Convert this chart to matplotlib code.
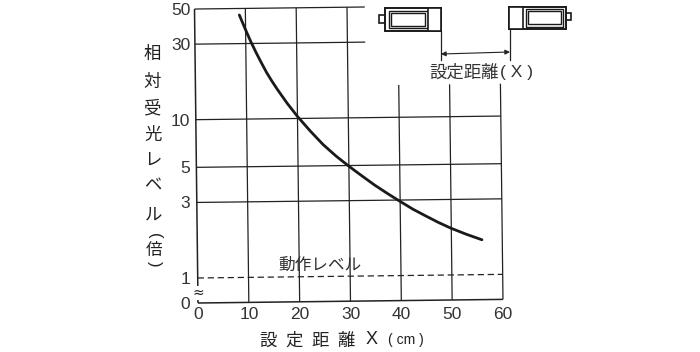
import matplotlib
matplotlib.use("Agg")
import matplotlib.pyplot as plt
from matplotlib.patches import Rectangle
from matplotlib.transforms import Affine2D

plt.rcParams['font.family'] = ['Noto Sans CJK JP', 'DejaVu Sans']
INK = '#222222'
TXT = '#333333'
LAT = 'Liberation Sans'

x_vals = [8.8, 10, 11, 12, 13, 14, 15, 16, 18, 20, 22.5, 25, 27.5, 30,
          32.5, 35, 37.5, 40, 42.5, 45, 47.5, 50, 53, 56]
y_vals = [45.5, 36.6, 30.8, 26.3, 22.7, 19.7, 17.4, 15.5, 12.5, 10.3, 8.3, 6.8, 5.75, 4.95,
          4.3, 3.75, 3.31, 2.94, 2.62, 2.37, 2.15, 1.97, 1.80, 1.66]
x_ticks = [0, 10, 20, 30, 40, 50, 60]
y_ticks = [1, 3, 5, 10, 30, 50]
y_floor = 0.695  # position of the broken-axis "0"
level = 1

fig = plt.figure(figsize=(7, 3.52), dpi=100)
ax = fig.add_axes([198/700, 1-303/352, 305/700, 294/352])
ax.set_yscale('log')
ax.set_xlim(0, 60)
ax.set_ylim(y_floor, 50)
ax.minorticks_off()
for s in ax.spines.values():
    s.set_visible(False)

# the scanned chart is slightly rotated about its origin
tilt = Affine2D().rotate_deg_around(198, 352-303, 0.68)
tr = ax.transData + tilt

lw = 0.9
kw = dict(color=INK, transform=tr, clip_on=False)
ax.vlines([10, 20, 30], y_floor, 50, lw=lw, **kw)
ax.vlines([40, 50, 60], y_floor, 16, lw=lw, **kw)
ax.hlines([3, 5, 10], 0, 60, lw=lw, **kw)
ax.hlines([30, 50], 0, 33.5, lw=lw, **kw)
ax.vlines([0], y_floor, 50, lw=1.1, **kw)
ax.hlines([y_floor], 0, 60, lw=1.1, **kw)
ax.plot([0, 60], [level, level], lw=0.9, dashes=(5, 3), **kw)
ax.plot(x_vals, y_vals, color='#1a1a1a', lw=2.0, solid_capstyle='round',
        solid_joinstyle='round', transform=tr, clip_on=False)

ax.set_xticks(x_ticks)
ax.set_xticklabels([str(v) for v in x_ticks], fontsize=12.5, color=TXT, family=LAT)
ax.set_yticks([y_floor] + y_ticks)
ax.set_yticklabels(['0'] + [str(v) for v in y_ticks], fontsize=12.5, color=TXT, family=LAT)
ax.tick_params(length=0)
ax.tick_params(axis='x', pad=3)
ax.tick_params(axis='y', pad=5.5)

# overlay in pixel coordinates for schematic and annotations
ov = fig.add_axes([0, 0, 1, 1], facecolor='none')
ov.set_xlim(0, 700)
ov.set_ylim(352, 0)
ov.axis('off')

# axis break mark
ov.text(198, 293, '≈', fontsize=10, ha='center', va='center', color=INK, family='DejaVu Sans',
        bbox=dict(fc='white', ec='none', pad=0))

# y label, stacked
for ch, xx, yy in zip('相対受光レベル', [152, 152, 152, 153, 153, 153, 154],
                      [54, 82, 108, 135, 161, 185, 215]):
    ov.text(xx, yy, ch, fontsize=12.5, ha='center', va='center', color=INK)
ov.text(154, 236, '(', fontsize=12, ha='center', va='center', rotation=-90, color=INK, family=LAT)
ov.text(154, 250, '倍', fontsize=12, ha='center', va='center', color=INK)
ov.text(154, 264, ')', fontsize=12, ha='center', va='center', rotation=-90, color=INK, family=LAT)

# x label
for ch, xx in zip(['設', '定', '距', '離'], [268, 294, 320, 346]):
    ov.text(xx, 341, ch, fontsize=12.5, ha='center', va='center', color=INK)
ov.text(372, 340, 'X', fontsize=13, ha='center', va='center', color=INK, family=LAT)
ov.text(406, 340, '( cm )', fontsize=10, ha='center', va='center', color=INK, family=LAT)

ov.text(319.5, 265, '動作レベル', fontsize=12, ha='center', va='center', color=TXT)
ov.text(429, 73, '設定距離', fontsize=12.5, ha='left', va='center', color=TXT)
ov.text(517, 72, '( X )', fontsize=12.5, ha='center', va='center', color=TXT, family=LAT)

# sensors
def rect(x0, y0, x1, y1, lw=1.4):
    ov.add_patch(Rectangle((x0, y0), x1-x0, y1-y0, fc='white', ec='#1a1a1a', lw=lw))
rect(379, 15, 385, 23, 1.2)
rect(385, 8, 441, 31)
rect(389, 11, 428, 28, 1.0)
rect(391, 13, 425, 26, 1.0)
rect(428, 8, 441, 31, 1.2)
rect(566, 13, 571, 20, 1.2)
rect(509, 7, 566, 29)
rect(509, 7, 523, 29, 1.2)
rect(526, 9, 563, 27, 1.0)
rect(528, 11, 561, 24, 1.0)
ov.plot([441, 441], [31, 60], color=INK, lw=0.9)
ov.plot([510, 510], [29, 60], color=INK, lw=0.9)
ov.annotate('', xy=(441, 54), xytext=(510, 52),
            arrowprops=dict(arrowstyle='<|-|>', color=INK, lw=0.8, mutation_scale=7, shrinkA=0, shrinkB=0))

fig.savefig('out.png', dpi=100)
